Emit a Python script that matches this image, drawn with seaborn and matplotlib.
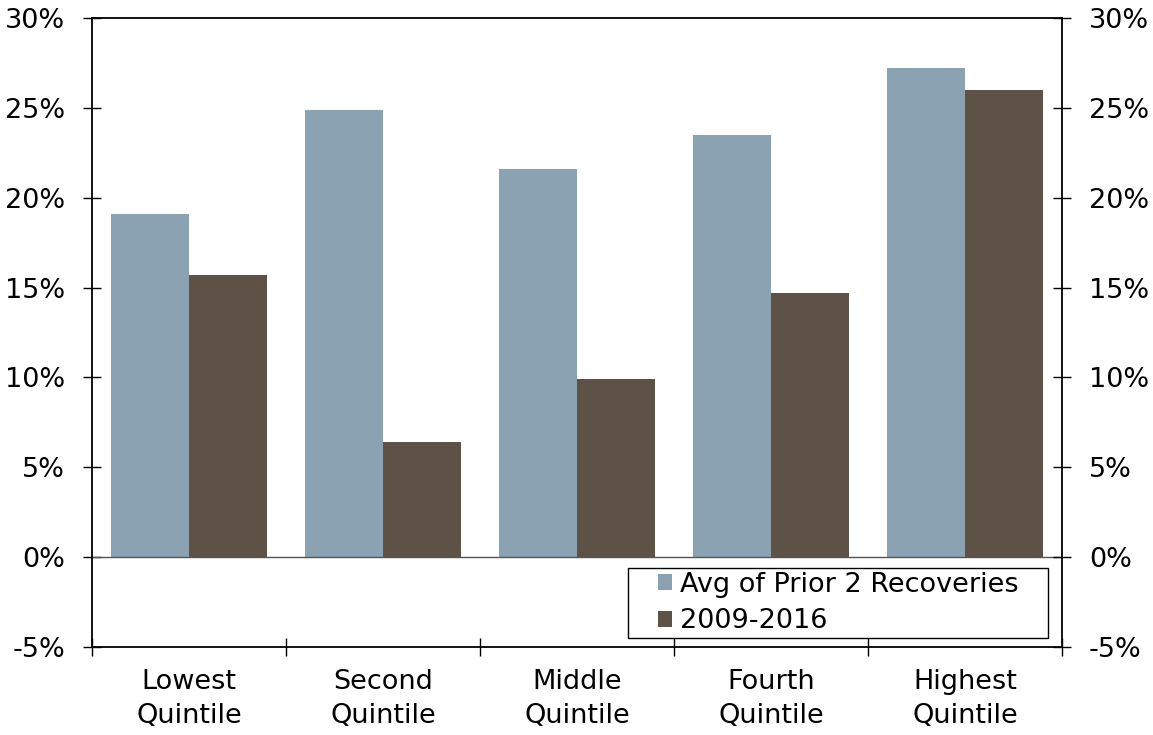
import numpy as np
import pandas as pd
import matplotlib
matplotlib.use("Agg")
import matplotlib.pyplot as plt
from matplotlib.patches import Rectangle
import seaborn as sns
from matplotlib.ticker import FixedLocator, PercentFormatter

# Categories and series values (percent)
categories = ["Lowest\nQuintile", "Second\nQuintile", "Middle\nQuintile",
              "Fourth\nQuintile", "Highest\nQuintile"]
series_names = ["Avg of Prior 2 Recoveries", "2009-2016"]
prior_avg = [19.1, 24.9, 21.6, 23.5, 27.2]
recent = [15.7, 6.4, 9.9, 14.7, 26.0]
y_ticks = [-5, 0, 5, 10, 15, 20, 25, 30]

colors = ["#8aa2b2", "#5e5247"]

df = pd.DataFrame({
    "category": categories * 2,
    "series": [series_names[0]] * 5 + [series_names[1]] * 5,
    "value": prior_avg + recent,
})

sns.set_theme(style="white")
plt.rcParams["font.family"] = "sans-serif"
plt.rcParams["font.sans-serif"] = ["DejaVu Sans"]
plt.rcParams["axes.unicode_minus"] = False
plt.rcParams["text.color"] = "black"
plt.rcParams["xtick.color"] = "black"
plt.rcParams["ytick.color"] = "black"
FS = 19.5

fig = plt.figure(figsize=(11.53, 7.35), dpi=100)
ax = fig.add_axes([0.0798, 0.1197, 0.8412, 0.8558])

sns.barplot(data=df, x="category", y="value", hue="series", order=categories,
            hue_order=series_names, palette=colors, width=0.8, saturation=1,
            edgecolor="none", linewidth=0, ax=ax)

ax.set_ylim(-5, 30)
ax.set_xlim(-0.5, len(categories) - 0.5)
ax.axhline(0, color="#555555", lw=1.0, zorder=1)

for s in ax.spines.values():
    s.set_visible(True)
    s.set_color("black")
    s.set_linewidth(1.3)

ax.yaxis.set_major_locator(FixedLocator(y_ticks))
ax.yaxis.set_major_formatter(PercentFormatter(decimals=0))
ax.tick_params(axis="y", which="major", direction="inout", length=13,
               width=1.0, color="black", labelcolor="black", labelsize=FS,
               pad=13, left=True)

# Category labels at centres, tick marks at category boundaries
ax.set_xticks(range(len(categories)))
ax.set_xticklabels(categories, fontsize=FS, linespacing=1.38, color="black")
ax.xaxis.set_minor_locator(FixedLocator(np.arange(-0.5, len(categories), 1.0)))
ax.tick_params(axis="x", which="major", length=0, pad=16)
ax.tick_params(axis="x", which="minor", direction="inout", length=13,
               width=1.0, color="black", bottom=True)
ax.set_xlabel("")
ax.set_ylabel("")

# Mirrored right-hand axis
ax2 = ax.twinx()
ax2.set_ylim(ax.get_ylim())
ax2.yaxis.set_major_locator(FixedLocator(y_ticks))
ax2.yaxis.set_major_formatter(PercentFormatter(decimals=0))
ax2.tick_params(axis="y", direction="inout", length=13, width=1.0,
                color="black", labelcolor="black", labelsize=FS, pad=13,
                right=True)
ax2.grid(False)
for s in ax2.spines.values():
    s.set_visible(False)

# Legend: wide white box with the entries placed inside it
box_x, box_y, box_w, box_h = 0.5526, 0.0143, 0.433, 0.1113
ax.add_patch(Rectangle((box_x, box_y), box_w, box_h, transform=ax.transAxes,
                       facecolor="white", edgecolor="black", lw=1.0,
                       zorder=5))
handles, labels = ax.get_legend_handles_labels()
leg = ax.legend(handles, labels, loc="center left",
                bbox_to_anchor=(0.5835, box_y + box_h / 2), borderaxespad=0,
                borderpad=0, fontsize=FS, frameon=False,
                handlelength=0.52, handleheight=0.52, handletextpad=0.3,
                labelspacing=0.4)
leg.set_zorder(6)
for t in leg.get_texts():
    t.set_color("black")

fig.savefig("out.png", dpi=100)
